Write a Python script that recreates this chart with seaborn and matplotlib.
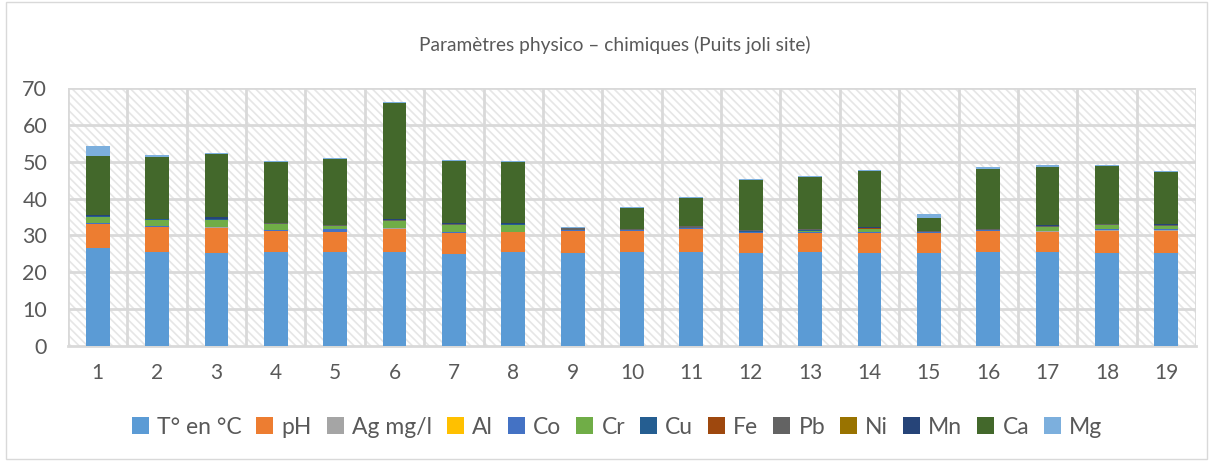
import numpy as np
import pandas as pd
import matplotlib
matplotlib.use("Agg")
import matplotlib.pyplot as plt
from matplotlib.patches import Patch, Rectangle
import seaborn as sns

categories = [str(i) for i in range(1, 20)]
series_names = ["T° en °C", "pH", "Ag mg/l", "Al", "Co", "Cr", "Cu", "Fe", "Pb", "Ni", "Mn", "Ca", "Mg"]
colors = ["#5b9bd5", "#ed7d31", "#a5a5a5", "#ffc000", "#4472c4", "#70ad47",
          "#255e91", "#9e480e", "#636363", "#997300", "#264478", "#43682b", "#7cafdd"]

T = [26.5, 25.4, 25.3, 25.4, 25.4, 25.4, 24.9, 25.5, 25.3, 25.5, 25.6, 25.3, 25.4, 25.1, 25.3, 25.4, 25.5, 25.2, 25.3]
pH = [6.5, 6.9, 6.8, 5.7, 5.4, 6.4, 5.7, 5.3, 5.9, 5.7, 6.1, 5.3, 5.2, 5.5, 5.3, 5.8, 5.5, 6.1, 6.0]
Ag = [0.1] * 19
Al = [0.02] * 19
Co = [0.2, 0.1, 0.2, 0.3, 0.7, 0.2, 0.3, 0.1, 0.05, 0.2, 0.1, 0.3, 0.1, 0.2, 0.1, 0.1, 0.2, 0.3, 0.3]
Cr = [1.8, 1.8, 1.9, 1.6, 1.0, 1.8, 1.8, 1.9, 0.0, 0.0, 0.0, 0.0, 0.5, 0.9, 0.0, 0.0, 1.0, 1.0, 0.9]
Cu = [0.05] * 19
Fe = [0.01] * 19
Pb = [0.1, 0.1, 0.2, 0.1, 0.1, 0.1, 0.2, 0.2, 0.5, 0.05, 0.5, 0.3, 0.3, 0.2, 0.2, 0.2, 0.2, 0.3, 0.2]
Ni = [0.01] * 19
Mn = [0.15, 0.1, 0.3, 0.15, 0.15, 0.3, 0.2, 0.1, 0.0, 0.05, 0.0, 0.2, 0.1, 0.3, 0.05, 0.05, 0.2, 0.1, 0.2]
Ca = [16.2, 16.6, 17.3, 16.4, 17.9, 31.5, 16.8, 16.6, 0.1, 5.8, 7.7, 13.4, 14.0, 15.0, 3.6, 16.4, 15.9, 15.7, 14.0]
Mg = [2.7, 0.5, 0.2, 0.3, 0.2, 0.4, 0.4, 0.3, 0.2, 0.2, 0.2, 0.2, 0.2, 0.4, 1.1, 0.3, 0.3, 0.3, 0.5]

series = [T, pH, Ag, Al, Co, Cr, Cu, Fe, Pb, Ni, Mn, Ca, Mg]

sns.set_theme(style="white")
plt.rcParams["font.family"] = ["Lato", "DejaVu Sans"]
plt.rcParams["hatch.linewidth"] = 1.2

fig = plt.figure(figsize=(12.11, 4.61), dpi=100)
ax = fig.add_axes([68 / 1211, 1 - 346 / 461, (1196 - 68) / 1211, (346 - 88) / 461])

# hatched plot background
ax.add_patch(Rectangle((0, 0), 1, 1, transform=ax.transAxes, facecolor="white",
                       hatch="\\\\\\\\", edgecolor="#e6e6e6", linewidth=0, zorder=0))

cum = np.cumsum(np.array(series, dtype=float), axis=0)
df = pd.DataFrame({"cat": categories})
for i in range(len(series) - 1, -1, -1):
    df["v"] = cum[i]
    sns.barplot(data=df, x="cat", y="v", color=colors[i], width=0.4, ax=ax,
                saturation=1, edgecolor="none", linewidth=0, zorder=3)

ax.set_xlim(-0.5, 18.5)
ax.set_ylim(0, 70)
ax.set_yticks(range(0, 71, 10))
for y in range(10, 71, 10):
    ax.axhline(y, color="#d9d9d9", lw=2, zorder=1)
for x in np.arange(-0.5, 19, 1):
    ax.axvline(x, color="#d9d9d9", lw=2, zorder=1)
for s in ["top", "right", "left"]:
    ax.spines[s].set_visible(False)
ax.spines["bottom"].set_color("#d9d9d9")
ax.spines["bottom"].set_linewidth(2)
ax.set_xlabel("")
ax.set_ylabel("")
ax.tick_params(axis="y", length=0, labelsize=15.5, labelcolor="#595959", pad=15)
ax.tick_params(axis="x", length=0, labelsize=15, labelcolor="#595959", pad=12)

fig.text(615 / 1211, 1 - 45 / 461, "Paramètres physico – chimiques (Puits joli site)",
         ha="center", va="center", fontsize=13.8, color="#595959")

handles = [Patch(facecolor=c, edgecolor="none") for c in colors]
fig.legend(handles, series_names, loc="center", bbox_to_anchor=(617 / 1211, 1 - 427 / 461),
           ncol=13, frameon=False, handlelength=0.75, handleheight=0.75,
           handletextpad=0.35, columnspacing=0.65,
           prop={"size": 16.5}, labelcolor="#595959")

fig.add_artist(Rectangle((0.005, 0.005), 0.992, 0.99, transform=fig.transFigure,
                         fill=False, edgecolor="#d9d9d9", linewidth=1))

fig.savefig("out.png", dpi=100)
